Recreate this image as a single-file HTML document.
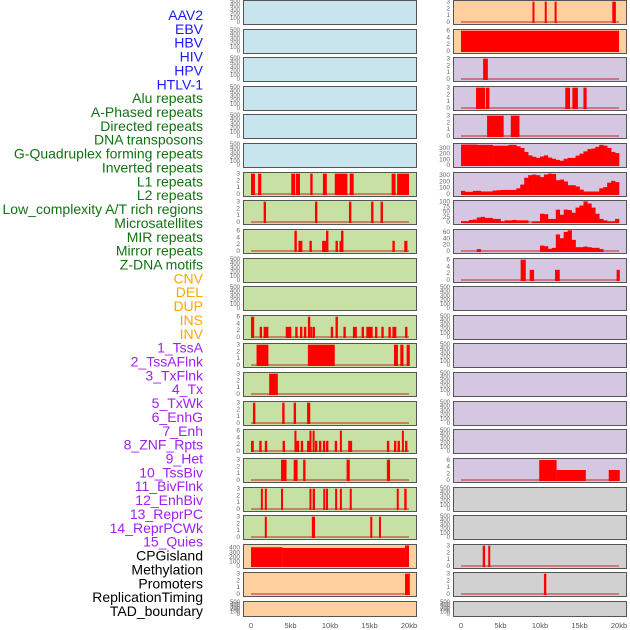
<!DOCTYPE html>
<html><head><meta charset="utf-8"><style>
body{margin:0;background:#fff;width:630px;height:630px;overflow:hidden}
svg{display:block}
</style></head><body>
<svg id="chart" width="630" height="630" xmlns="http://www.w3.org/2000/svg" font-family="Liberation Sans, sans-serif"></svg>
<script>
const labels=["AAV2","EBV","HBV","HIV","HPV","HTLV-1","Alu repeats","A-Phased repeats","Directed repeats","DNA transposons","G-Quadruplex forming repeats","Inverted repeats","L1 repeats","L2 repeats","Low_complexity A/T rich regions","Microsatellites","MIR repeats","Mirror repeats","Z-DNA motifs","CNV","DEL","DUP","INS","INV","1_TssA","2_TssAFlnk","3_TxFlnk","4_Tx","5_TxWk","6_EnhG","7_Enh","8_ZNF_Rpts","9_Het","10_TssBiv","11_BivFlnk","12_EnhBiv","13_ReprPC","14_ReprPCWk","15_Quies","CPGisland","Methylation","Promoters","ReplicationTiming","TAD_boundary"];
const labelGroups=["v","v","v","v","v","v","r","r","r","r","r","r","r","r","r","r","r","r","r","c","c","c","c","c","s","s","s","s","s","s","s","s","s","s","s","s","s","s","s","o","o","o","o","o"];
const xTicks=[0,5,10,15,20];
const xTickLabels=["0","5kb","10kb","15kb","20kb"];
const leftBg=["b","b","b","b","b","b","g","g","g","g","g","g","g","g","g","g","g","g","g","o","o","o"];
const rightBg=["o","o","p","p","p","p","p","p","p","p","p","p","p","p","p","p","p","y","y","y","y","y"];
// segment data [startKb,endKb,value]
const L7=[[0,0.5,3],[0.9,1.3,3],[5.1,5.6,3],[5.7,6.2,3],[7.5,7.8,3],[9.1,9.6,3],[10.6,12.2,3],[12.5,13,3],[17.8,18.3,3],[18.5,20,3]];
const L8=[[1.6,1.9,3],[8.1,8.4,3],[12.4,12.7,3],[15.2,15.5,3],[16.4,16.7,3]];
const L9=[[5.5,5.8,6],[6,6.5,3],[7.4,7.7,3],[9,9.5,3],[9.5,9.8,6],[10.7,11,3],[11.2,11.4,3],[11.4,11.7,6],[17.9,18.2,3],[19.4,19.8,3]];
const L12=[[0,0.4,6],[1.1,1.4,3],[1.6,1.9,3],[1.9,2.2,3],[4.4,5.1,3],[5.6,5.9,3],[6.2,6.5,3],[6.7,7,3],[7.2,7.5,6],[7.5,7.7,3],[7.8,8.1,3],[10.1,10.4,3],[10.7,11,6],[11.7,12,3],[12.9,13.4,3],[14,14.3,3],[14.6,15.4,3],[15.7,16,3],[16.5,16.8,3],[17.4,17.7,3],[17.9,18.4,3],[19.5,19.8,3]];
const L13=[[0.7,2.2,3],[7.2,10.6,3],[18.1,18.6,3],[18.9,19.3,3],[19.7,20.1,3]];
const L14=[[2.3,3.4,3]];
const L15=[[0.25,0.55,3],[3.95,4.25,3],[5.4,5.7,3],[7.1,7.5,3]];
const L16=[[0,0.35,3],[1.05,1.35,3],[1.75,2.05,3],[4,4.3,3],[5.5,5.75,6],[5.75,6.1,3],[6.3,6.6,3],[7.1,7.4,3],[7.4,7.65,6],[7.8,8.05,6],[8.1,8.4,3],[8.6,8.9,3],[9.1,9.4,3],[9.5,9.8,3],[10.6,10.9,3],[11.25,11.5,6],[12.3,12.8,3],[17.2,17.5,3],[18.1,18.4,3],[18.55,18.85,3],[19.1,19.35,6],[19.5,19.8,3]];
const L17=[[3.8,4.5,3],[5.4,5.9,3],[6.6,6.9,3],[12.1,12.5,3],[17.2,17.6,3]];
const L18=[[1.25,1.5,3],[1.75,2,3],[3.8,4.05,3],[7.4,7.65,3],[7.8,8.1,3],[9.15,9.4,3],[9.5,9.75,3],[10.65,10.9,3],[11.25,11.5,3],[12.5,12.75,3],[18.45,18.7,3],[19.4,19.7,3]];
const L19=[[1.75,2,3],[7.7,8.1,3],[15.1,15.35,3],[16.2,16.45,3]];
const L20=[[0,4,410],[4,19.5,395],[19.5,20,450]];
const L21=[[19.5,20.1,3]];
const R1=[[9.05,9.3,3],[10.6,10.85,3],[11.85,12.1,3],[19.15,19.6,3]];
const R2=[[0,20,6]];
const R3=[[2.8,3.4,3]];
const R4=[[1.9,3.05,3],[3.15,3.6,3],[13.2,13.8,3],[14.1,14.8,3],[15.5,15.9,3]];
const R5=[[3.3,5.4,3],[6.3,7.4,3]];
const R10=[[7.55,8.2,6],[8.7,9.25,3],[11.9,12.5,3],[19.7,20.1,3]];
const R17=[[9.9,12.1,6],[12.1,15.8,3],[18.7,20.1,3]];
const R20=[[2.75,3.05,3],[3.45,3.7,3]];
const R21=[[10.5,10.8,3]];
// profile data (0.5kb bins)
const R6=[360,360,360,360,355,355,355,355,340,340,340,340,355,355,330,300,230,170,145,125,150,170,130,110,90,75,110,125,125,165,200,240,280,290,320,355,340,300,230,210];
const R7=[50,35,35,50,50,40,40,40,55,60,65,65,65,65,90,150,260,300,310,300,270,310,325,320,220,230,200,140,140,120,70,40,40,40,40,90,110,180,210,190];
const R8=[4,4,10,12,22,25,20,20,15,15,3,8,8,10,8,8,8,0,3,3,40,38,15,15,60,35,60,58,45,70,80,100,90,70,40,15,8,3,3,15];
const R9=[0,0,0,0,6,0,0,0,0,0,0,0,0,0,0,0,0,0,0,0,17,15,7,10,52,40,60,65,35,12,12,14,12,10,10,6,0,0,0,0];
const t3=[0,1,2,3],t6=[0,2,4,6],tE=[0,100,200,300,400,500];
const leftPanels=[null,null,null,null,null,null,{s:L7,m:3.1,t:t3},{s:L8,m:3.1,t:t3},{s:L9,m:6.2,t:t6},null,null,{s:L12,m:6.2,t:t6},{s:L13,m:3.1,t:t3},{s:L14,m:3.1,t:t3},{s:L15,m:3.1,t:t3},{s:L16,m:6.2,t:t6},{s:L17,m:3.1,t:t3},{s:L18,m:3.1,t:t3},{s:L19,m:3.1,t:t3},{s:L20,m:460,t:[0,100,200,300,400],nb:1},{s:L21,m:3.1,t:t3},null];
const rightPanels=[{s:R1,m:3.1,t:t3},{s:R2,m:6.2,t:t6,nb:1},{s:R3,m:3.1,t:t3},{s:R4,m:3.1,t:t3},{s:R5,m:3.1,t:t3},{p:R6,m:370,t:[0,100,200,300],nb:1},{p:R7,m:335,t:[0,100,200,300]},{p:R8,m:102,t:[0,25,50,75,100]},{p:R9,m:66,t:[0,20,40,60]},{s:R10,m:6.2,t:t6},null,null,null,null,null,null,{s:R17,m:6.3,t:t6},null,null,{s:R20,m:3.1,t:t3},{s:R21,m:3.1,t:t3},null];
const svg=document.getElementById('chart');
const NS='http://www.w3.org/2000/svg';
function mk(tag,attrs,parent){const e=document.createElementNS(NS,tag);for(const k in attrs)e.setAttribute(k,attrs[k]);(parent||svg).appendChild(e);return e;}
const bgCol={b:'#c8e4ec',g:'#c7e0a3',o:'#ffd09e',p:'#d5c6e1',y:'#d1d1d1'};
const grpCol={v:'#1a1aff',r:'#127212',c:'#ffa500',s:'#a020f0',o:'#000000'};
labels.forEach((l,i)=>{
  const t=mk('text',{x:203,y:15+i*13.86+5,'text-anchor':'end','font-size':'14',fill:grpCol[labelGroups[i]]});
  t.textContent=l;
  
  
});
function drawCol(panels,bgs,px,side){
  const W=173,x0=px+8,kb=7.9;
  const xs=k=>x0+k*kb;
  panels.forEach((pd,i)=>{
    const top=Math.round(i*28.62),h=(i==21)?15:24;
    const g=mk('g',{});
    
    
    mk('rect',{x:px+0.5,y:top+0.5,width:W,height:h,fill:bgCol[bgs[i]],stroke:'#555','stroke-width':1},g);
    const y0=top+h-2,yt=top+1;
    const ticks=pd?pd.t:tE, m=pd?pd.m:500;
    const ys=v=>y0-(v/m)*(y0-yt);
    ticks.forEach(v=>{const t=mk('text',{x:px-3,y:ys(v)+2,'text-anchor':'end','font-size':pd?'6.5':'6',fill:'#666'},g);t.textContent=v;
      
      });
    if(!pd)return;
    if(!pd.nb){const bl=mk('line',{x1:xs(0),x2:xs(20),y1:y0,y2:y0,stroke:'#c03030','stroke-width':1.5,opacity:0.7},g);
      
      }
    if(pd.s)pd.s.forEach(s=>{
      const r=mk('rect',{x:xs(s[0]),y:ys(s[2]),width:Math.max(xs(s[1])-xs(s[0]),2),height:y0-ys(s[2])+1,fill:'#ff0000'},g);
      
      
    });
    if(pd.p)pd.p.forEach((v,j)=>{
      if(v<=0)return;
      const r=mk('rect',{x:xs(j*0.5),y:ys(v),width:xs(0.5)-xs(0)+0.3,height:y0-ys(v)+1,fill:'#ff0000'},g);
      
      
    });
  });
  xTicks.forEach((k,j)=>{const t=mk('text',{x:xs(k),y:628,'text-anchor':'middle','font-size':'7.5',fill:'#555'});t.textContent=xTickLabels[j];
    
    });
}
drawCol(leftPanels,leftBg,243,'left');
drawCol(rightPanels,rightBg,453,'right');
</script>
</body></html>
